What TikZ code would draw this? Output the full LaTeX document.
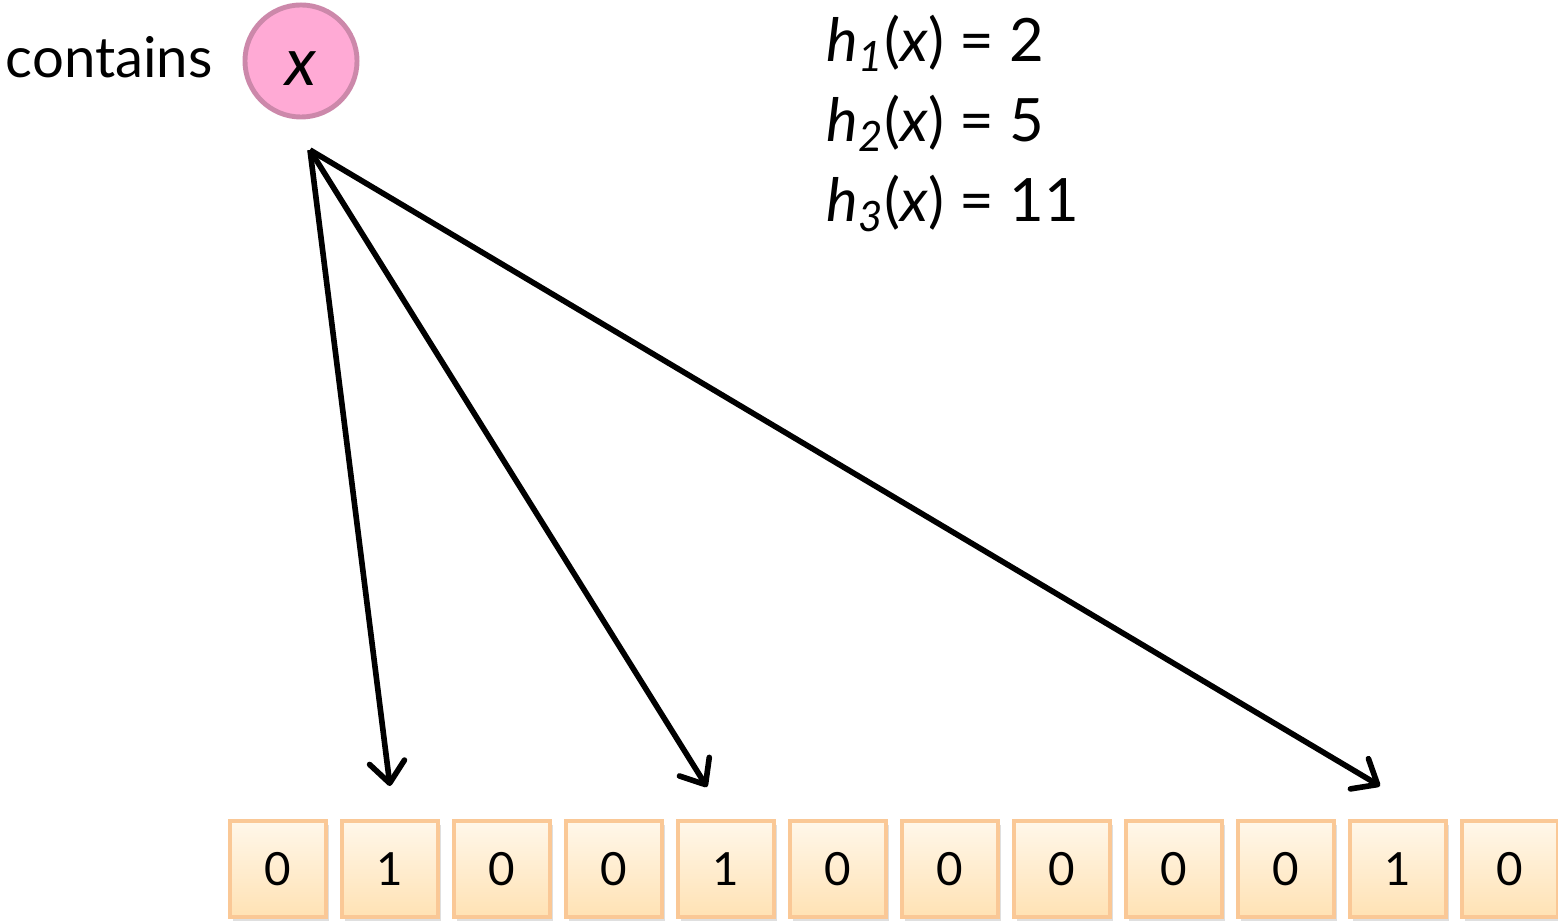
\documentclass[tikz,border=0pt]{standalone}
\usepackage{fontspec}
\setmainfont{Lato}
\usepackage{tikz}
\usetikzlibrary{arrows.meta,shadows}

\definecolor{cellborder}{HTML}{FAC896}
\definecolor{celltop}{HTML}{FFF7EA}
\definecolor{cellbottom}{HTML}{FFE2B4}
\definecolor{itemfill}{HTML}{FFAAD5}
\definecolor{itemborder}{HTML}{CC88AA}

\tikzset{
  cell/.style={draw=cellborder, line width=1pt, top color=celltop, bottom color=cellbottom,
    minimum size=0.96cm, inner sep=0pt, font=\fontsize{13}{15}\selectfont,
    drop shadow={shadow xshift=0.8pt, shadow yshift=-1.2pt, opacity=0.25}},
  item/.style={circle, draw=itemborder, fill=itemfill, line width=1.4pt,
    minimum size=1.12cm, inner sep=0pt, font=\fontsize{19}{22}\selectfont\itshape},
  hash/.style={-{Straight Barb[length=6pt,width=10pt,round]}, line width=1.6pt},
  big/.style={inner sep=0pt, font=\fontsize{17}{21}\selectfont},
}

\begin{document}
\begin{tikzpicture}[x=0.01cm, y=-0.01cm]
    \useasboundingbox (0,0) rectangle (1558,922);

    % Element to look up
    \node[big, anchor=base west, font=\fontsize{16}{20}\selectfont] (query) at (5,78) {contains};
    \node[item] (elem) at (301,61) {\raisebox{-0.72em}{x}};

    % Hash values
    \node[big, anchor=base west] (h1) at (826,62) {\textit{h}\textsubscript{\textit{1}}(\textit{x}) = 2};
    \node[big, anchor=base west] (h2) at (826,142) {\textit{h}\textsubscript{\textit{2}}(\textit{x}) = 5};
    \node[big, anchor=base west] (h3) at (826,222) {\textit{h}\textsubscript{\textit{3}}(\textit{x}) = 11};

    % Bit array
    \foreach \b [count=\i] in {0,1,0,0,1,0,0,0,0,0,1,0}
        \node[cell] (c\i) at ({278+112*(\i-1)},869) {\b};

    % Arrows
    \coordinate (src) at (310,150);
    \coordinate (t1) at (390,786);
    \coordinate (t2) at (707,787);
    \coordinate (t3) at (1380,786);
    \draw[hash] (src) -- (t1);
    \draw[hash] (src) -- (t2);
    \draw[hash] (src) -- (t3);
\end{tikzpicture}
\end{document}
